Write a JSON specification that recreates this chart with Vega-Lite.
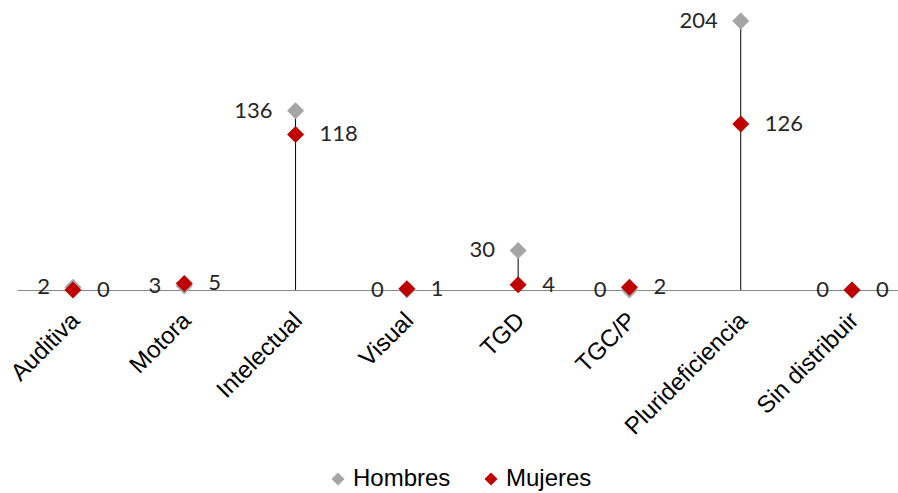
{
  "$schema": "https://vega.github.io/schema/vega-lite/v6.json",
  "width": 881,
  "height": 290,
  "autosize": {"type": "none"},
  "padding": {"left": 17, "top": 0, "right": 0, "bottom": 203},
  "background": "#ffffff",
  "config": {"view": {"stroke": null}, "font": "Liberation Sans"},
  "data": {
    "values": [
      {"cat": "Auditiva", "serie": "Hombres", "value": 2},
      {"cat": "Motora", "serie": "Hombres", "value": 3},
      {"cat": "Intelectual", "serie": "Hombres", "value": 136},
      {"cat": "Visual", "serie": "Hombres", "value": 0},
      {"cat": "TGD", "serie": "Hombres", "value": 30},
      {"cat": "TGC/P", "serie": "Hombres", "value": 0},
      {"cat": "Plurideficiencia", "serie": "Hombres", "value": 204},
      {"cat": "Sin distribuir", "serie": "Hombres", "value": 0},
      {"cat": "Auditiva", "serie": "Mujeres", "value": 0},
      {"cat": "Motora", "serie": "Mujeres", "value": 5},
      {"cat": "Intelectual", "serie": "Mujeres", "value": 118},
      {"cat": "Visual", "serie": "Mujeres", "value": 1},
      {"cat": "TGD", "serie": "Mujeres", "value": 4},
      {"cat": "TGC/P", "serie": "Mujeres", "value": 2},
      {"cat": "Plurideficiencia", "serie": "Mujeres", "value": 126},
      {"cat": "Sin distribuir", "serie": "Mujeres", "value": 0}
    ]
  },
  "encoding": {
    "x": {
      "field": "cat",
      "type": "nominal",
      "sort": ["Auditiva", "Motora", "Intelectual", "Visual", "TGD", "TGC/P", "Plurideficiencia", "Sin distribuir"],
      "scale": {"type": "point", "padding": 0.458, "align": 0.549, "round": false},
      "axis": {
        "title": null,
        "labelAngle": -45,
        "labelFontSize": 24,
        "labelColor": "#000000",
        "labelFont": "Liberation Sans",
        "labelPadding": 18,
        "labelOffset": -6,
        "ticks": false,
        "domainColor": "#868686",
        "domainWidth": 1,
        "grid": false
      }
    }
  },
  "layer": [
    {
      "transform": [{"aggregate": [{"op": "max", "field": "value", "as": "vmax"}], "groupby": ["cat"]}],
      "mark": {"type": "rule", "color": "#000000", "strokeWidth": 1},
      "encoding": {
        "y": {"field": "vmax", "type": "quantitative", "scale": {"domain": [0, 220], "nice": false}, "axis": null},
        "y2": {"datum": 0}
      }
    },
    {
      "mark": {"type": "point", "shape": "diamond", "filled": true, "size": 289, "opacity": 1},
      "encoding": {
        "y": {"field": "value", "type": "quantitative", "scale": {"domain": [0, 220], "nice": false}, "axis": null},
        "color": {
          "field": "serie",
          "type": "nominal",
          "scale": {"domain": ["Hombres", "Mujeres"], "range": ["#A5A5A5", "#C00000"]},
          "legend": {
            "title": null,
            "orient": "none",
            "direction": "horizontal",
            "legendX": 309,
            "legendY": 467,
            "symbolType": "diamond",
            "symbolSize": 169,
            "symbolOpacity": 1,
            "labelFontSize": 24,
            "labelFont": "Liberation Sans",
            "labelColor": "#000000",
            "labelOffset": 3,
            "columnPadding": 28
          }
        }
      }
    },
    {
      "transform": [{"filter": "datum.serie === 'Hombres'"}],
      "mark": {"type": "text", "align": "right", "baseline": "middle", "dx": -23, "font": "Lato", "fontSize": 22, "color": "#262626"},
      "encoding": {
        "y": {"field": "value", "type": "quantitative", "scale": {"domain": [0, 220], "nice": false}, "axis": null},
        "text": {"field": "value", "type": "quantitative"}
      }
    },
    {
      "transform": [{"filter": "datum.serie === 'Mujeres'"}],
      "mark": {"type": "text", "align": "left", "baseline": "middle", "dx": 24, "font": "Lato", "fontSize": 22, "color": "#262626"},
      "encoding": {
        "y": {"field": "value", "type": "quantitative", "scale": {"domain": [0, 220], "nice": false}, "axis": null},
        "text": {"field": "value", "type": "quantitative"}
      }
    }
  ]
}
